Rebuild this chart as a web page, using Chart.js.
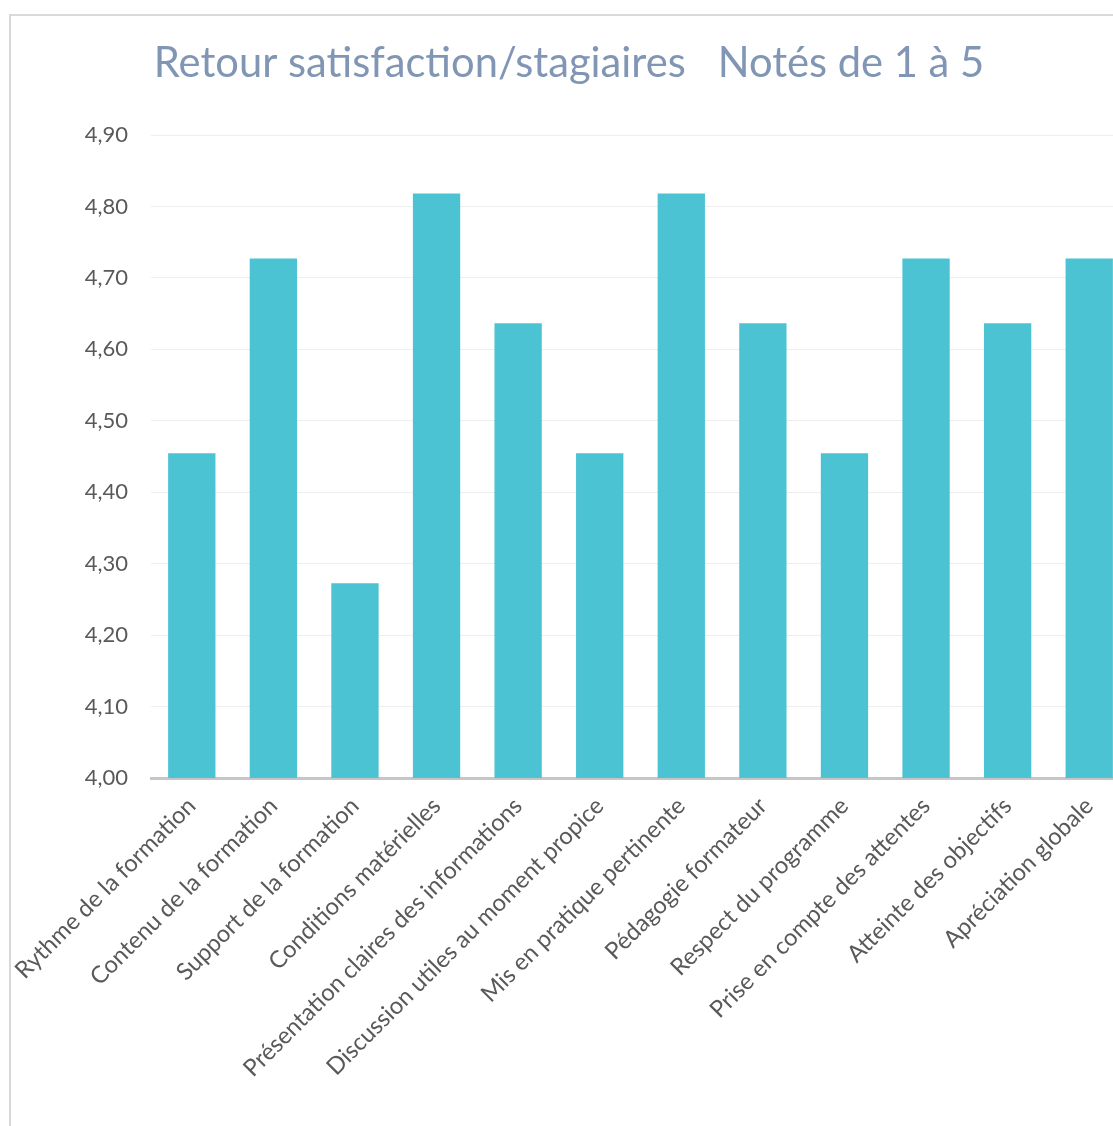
<!DOCTYPE html>
<html>
<head>
<meta charset="utf-8">
<script src="https://cdn.jsdelivr.net/npm/chart.js@4"></script>
<style>
  html, body { margin: 0; padding: 0; background: #fff; overflow: hidden; }
  #wrap { position: absolute; left: 0; top: 0; width: 1130px; height: 1126px; }
  #frame { position: absolute; left: 9px; top: 14px; width: 1200px; height: 1200px;
           border-left: 2px solid #d9d9d9; border-top: 2px solid #d9d9d9; pointer-events: none; }
</style>
</head>
<body>
<div id="wrap"><canvas id="myChart" width="1130" height="1126"></canvas></div>
<div id="frame"></div>
<script>
// categories et notes moyennes
const categories = [
  'Rythme de la formation',
  'Contenu de la formation',
  'Support de la formation',
  'Conditions matérielles',
  'Présentation claires des informations',
  'Discussion utiles au moment propice',
  'Mis en pratique pertinente',
  'Pédagogie formateur',
  'Respect du programme',
  'Prise en compte des attentes',
  'Atteinte des objectifs',
  'Apréciation globale'
];
const notes = [4.4545, 4.7273, 4.2727, 4.8182, 4.6364, 4.4545, 4.8182, 4.6364, 4.4545, 4.7273, 4.6364, 4.7273];
const yTicks = [4.0, 4.1, 4.2, 4.3, 4.4, 4.5, 4.6, 4.7, 4.8, 4.9];

const ctx = document.getElementById('myChart').getContext('2d');
const myChart = new Chart(ctx, {
  type: 'bar',
  data: {
    labels: categories,
    datasets: [{
      data: notes,
      backgroundColor: '#4bc3d3',
      barPercentage: 0.58,
      categoryPercentage: 1.0
    }]
  },
  options: {
    responsive: false,
    animation: false,
    layout: { padding: { left: 8, right: 0, top: 0, bottom: 0 } },
    plugins: {
      legend: { display: false },
      tooltip: { enabled: false },
      title: {
        display: true,
        text: 'Retour satisfaction/stagiaires   Notés de 1 à 5',
        color: '#8096b4',
        font: { family: 'Lato', size: 41.7, weight: 'normal' },
        padding: { top: 39, bottom: 46 }
      }
    },
    scales: {
      x: {
        grid: { display: false },
        border: { color: '#c6c6c6', width: 3 },
        ticks: {
          color: '#595959',
          font: { family: 'Lato', size: 23.7 },
          minRotation: 45,
          maxRotation: 45,
          autoSkip: false,
          padding: 6
        },
        afterFit: function(scale) { scale.height = 348; }
      },
      y: {
        min: 4.0,
        max: 4.9,
        afterBuildTicks: function(scale) {
          scale.ticks = yTicks.map(function(v) { return { value: v }; });
        },
        grid: { color: '#eeeeee', lineWidth: 1, drawTicks: false },
        border: { display: false },
        ticks: {
          color: '#595959',
          font: { family: 'Lato', size: 22 },
          padding: 23,
          callback: function(v) { return v.toFixed(2).replace('.', ','); }
        },
        afterFit: function(scale) { scale.width = 143; }
      }
    }
  }
});
</script>
</body>
</html>
